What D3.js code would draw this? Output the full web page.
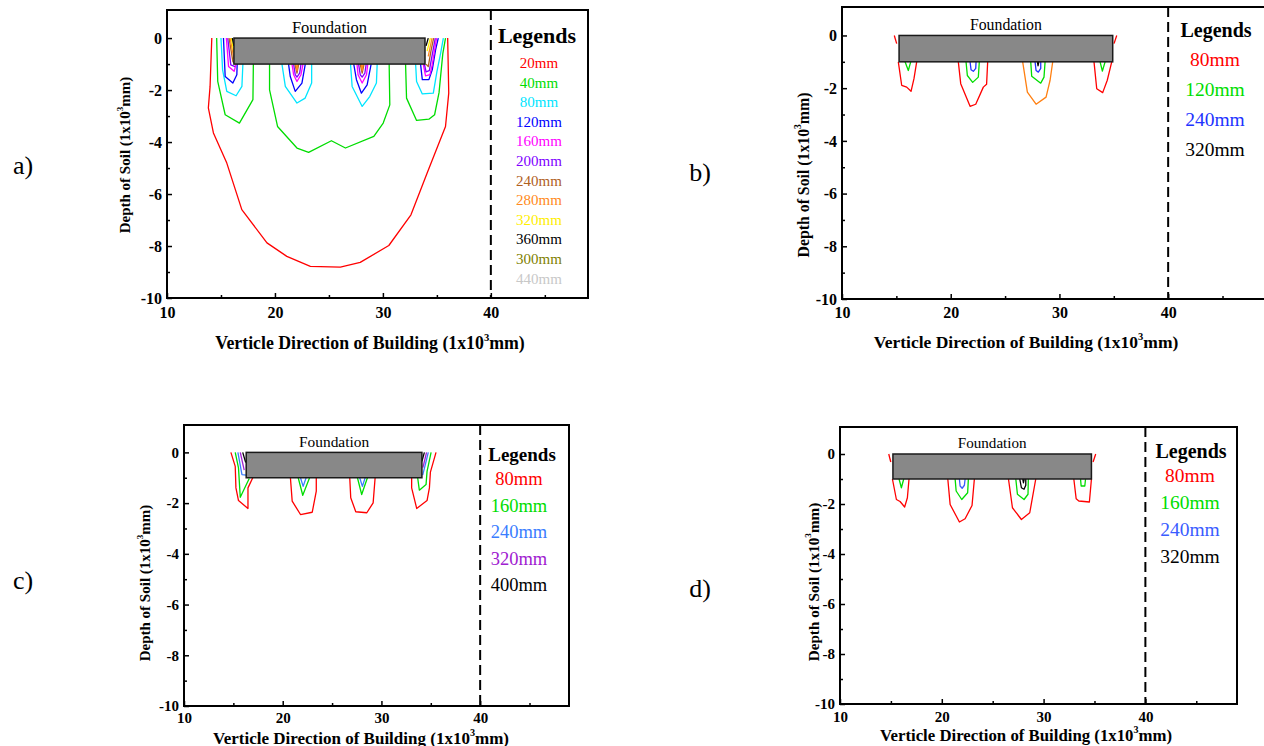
<!DOCTYPE html>
<html>
<head>
<meta charset="utf-8">
<script src="https://cdn.jsdelivr.net/npm/d3@7"></script>
<style>
  body { margin: 0; background: #fff; }
  svg { display: block; }
  text { font-family: "Liberation Serif", "Times New Roman", "DejaVu Serif", serif; }
</style>
</head>
<body>
<div id="chart"></div>
<script>
// Shared axis settings (x and y in 1x10^3 mm)
const xTicks = [10, 20, 30, 40];
const xMinorTicks = [15, 25, 35, 45];
const yTicks = [0, -2, -4, -6, -8, -10];
const yMinorTicks = [-1, -3, -5, -7, -9];
const xDomain = [10, 49];
const yDomain = [-10, 1.08];
const wallX = 40;
const foundationDepth = [-1, 0];
const panelLabels = ["a)", "b)", "c)", "d)"];
const serif = "'Liberation Serif', 'Times New Roman', serif";

// Panel a
const aLevels = ["20mm", "40mm", "80mm", "120mm", "160mm", "200mm", "240mm", "280mm", "320mm", "360mm", "300mm", "440mm"];
const aColors = ["#ff0000", "#00dd00", "#00e5ff", "#0000ff", "#ff00ff", "#7f00ff", "#b0601e", "#ff8a20", "#ffee00", "#000000", "#808000", "#c8c8c8"];
const aFoundation = [16.2, 33.9];
const aLines = [
  {lvl: "20mm", pts: [[14.15,0],[13.99,-1.86],[13.83,-2.69],[14.3,-3.65],[15.54,-4.81],[16.93,-6.6],[19.26,-7.88],[21.1,-8.4],[23.28,-8.78],[26.06,-8.81],[27.9,-8.63],[30.55,-7.98],[32.6,-6.8],[34.1,-5.19],[35.8,-3.4],[36.1,-2.12],[36.0,0]]},
  {lvl: "40mm", pts: [[14.6,0],[14.7,-1.67],[15.39,-2.95],[16.71,-3.27],[17.96,-2.37],[18.0,-1]]},
  {lvl: "40mm", pts: [[19.5,-1],[19.5,-1.99],[20.24,-3.4],[22.04,-4.23],[23.12,-4.4],[25.23,-3.95],[26.53,-4.23],[29.16,-3.78],[30.03,-3.27],[30.64,-2.57],[30.58,-1]]},
  {lvl: "40mm", pts: [[32.1,-1],[32.19,-2.31],[33.12,-3.17],[34.26,-3.12],[34.79,-2.95],[35.2,-2.1],[35.55,-0.6],[35.8,0]]},
  {lvl: "80mm", pts: [[15.0,0],[15.15,-1.22],[15.54,-2.05],[16.4,-2.22],[16.94,-1.86],[17.03,-1]]},
  {lvl: "80mm", pts: [[20.65,-1],[20.96,-1.86],[22.04,-2.5],[22.8,-2.31],[23.4,-1.73],[23.4,-1]]},
  {lvl: "80mm", pts: [[27.0,-1],[27.15,-1.86],[28.08,-2.63],[28.78,-2.25],[29.4,-1.73],[29.47,-1]]},
  {lvl: "80mm", pts: [[33.03,-1],[33.12,-1.67],[33.65,-2.15],[34.67,-2.12],[35.0,-1.3],[35.35,-0.58],[35.6,0]]},
  {lvl: "120mm", pts: [[15.23,0],[15.39,-1.48],[16.1,-1.73],[16.47,-1.41],[16.5,-1]]},
  {lvl: "120mm", pts: [[21.26,-1],[21.42,-1.48],[21.88,-2.05],[22.5,-1.73],[22.81,-1]]},
  {lvl: "120mm", pts: [[27.3,-1],[27.55,-1.6],[28.01,-2.12],[28.54,-1.8],[28.91,-1]]},
  {lvl: "120mm", pts: [[33.49,-1],[33.65,-1.6],[34.26,-1.6],[34.57,-1.22],[34.88,-0.45],[35.13,0]]},
  {lvl: "160mm", pts: [[15.5,0],[15.7,-1.09],[16.22,-1.28],[16.4,-1]]},
  {lvl: "160mm", pts: [[21.58,-1],[21.73,-1.41],[22.04,-1.67],[22.41,-1.41],[22.6,-1]]},
  {lvl: "160mm", pts: [[27.6,-1],[27.7,-1.41],[28.08,-1.73],[28.48,-1.41],[28.6,-1]]},
  {lvl: "160mm", pts: [[33.74,-1],[33.95,-1.45],[34.36,-1.41],[34.57,-1.03],[34.97,0]]},
  {lvl: "200mm", pts: [[15.63,0],[15.91,-1.03],[16.3,-1.1]]},
  {lvl: "200mm", pts: [[21.73,-1],[21.88,-1.41],[22.04,-1.5],[22.29,-1.35],[22.41,-1]]},
  {lvl: "200mm", pts: [[27.75,-1],[27.9,-1.41],[28.08,-1.5],[28.33,-1.35],[28.45,-1]]},
  {lvl: "200mm", pts: [[33.85,-1],[34.0,-1.3],[34.3,-1.25],[34.5,-0.8],[34.85,0]]},
  {lvl: "240mm", pts: [[15.75,0],[16.1,-0.9],[16.3,-1]]},
  {lvl: "240mm", pts: [[21.85,-1],[22.04,-1.35],[22.2,-1]]},
  {lvl: "240mm", pts: [[27.9,-1],[28.08,-1.35],[28.25,-1]]},
  {lvl: "240mm", pts: [[34.0,-1],[34.2,-1.1],[34.45,-0.5],[34.7,0]]},
  {lvl: "280mm", pts: [[15.85,0],[16.2,-0.8]]},
  {lvl: "280mm", pts: [[21.95,-1],[22.04,-1.25],[22.12,-1]]},
  {lvl: "280mm", pts: [[28.0,-1],[28.08,-1.25],[28.16,-1]]},
  {lvl: "280mm", pts: [[34.2,-0.7],[34.55,0]]},
  {lvl: "320mm", pts: [[15.95,0],[16.2,-0.55]]},
  {lvl: "320mm", pts: [[34.1,-0.5],[34.4,0]]},
  {lvl: "360mm", pts: [[16.05,0],[16.2,-0.3]]},
  {lvl: "360mm", pts: [[34.0,-0.3],[34.2,0]]}
];

// Panel b
const bLevels = ["80mm", "120mm", "240mm", "320mm"];
const bColors = ["#ff0000", "#00dd00", "#2233ff", "#000000", "#ff7f10"];
const bFoundation = [15.25, 34.9];
const bLines = [
  {lvl: "80mm", pts: [[14.81,0],[15.03,-0.31]]},
  {lvl: "80mm", pts: [[35.27,0],[35.02,-0.31]]},
  {lvl: "80mm", pts: [[15.18,-1],[15.49,-1.89],[15.95,-1.96],[16.35,-2.12],[16.62,-1.64],[16.87,-1]]},
  {lvl: "80mm", pts: [[20.7,-1],[20.92,-1.83],[21.78,-2.69],[22.3,-2.61],[23.0,-1.96],[23.3,-1.85],[23.4,-1]]},
  {lvl: "80mm", pts: [[33.18,-1],[33.43,-2.02],[33.98,-2.17],[34.4,-1.7],[34.81,-1]]},
  {lvl: "other", pts: [[26.62,-1],[27.05,-2.15],[27.85,-2.61],[28.77,-2.34],[29.14,-1.7],[29.38,-1]]},
  {lvl: "120mm", pts: [[15.8,-1],[16.1,-1.33],[16.32,-1]]},
  {lvl: "120mm", pts: [[21.41,-1],[21.53,-1.52],[22.02,-1.78],[22.54,-1.58],[22.63,-1]]},
  {lvl: "120mm", pts: [[27.36,-1],[27.45,-1.55],[28.28,-1.81],[28.58,-1.58],[28.68,-1]]},
  {lvl: "120mm", pts: [[33.74,-1],[33.95,-1.35],[34.2,-1]]},
  {lvl: "240mm", pts: [[21.78,-1],[21.87,-1.3],[22.08,-1.36],[22.3,-1.25],[22.33,-1]]},
  {lvl: "240mm", pts: [[27.76,-1],[27.85,-1.33],[28.06,-1.39],[28.28,-1.25],[28.28,-1]]},
  {lvl: "320mm", pts: [[27.98,-1],[28.03,-1.15],[28.1,-1]]}
];

// Panel c
const cLevels = ["80mm", "160mm", "240mm", "320mm", "400mm"];
const cColors = ["#ff0000", "#00dd00", "#3a7dff", "#a020d0", "#000000"];
const cFoundation = [16.3, 34.1];
const cLines = [
  {lvl: "80mm", pts: [[14.75,0],[15.19,-0.55],[15.26,-1.4],[15.52,-1.9],[16.48,-2.21],[16.48,-1.4],[16.99,-0.98]]},
  {lvl: "80mm", pts: [[20.78,-1],[20.96,-1.92],[21.8,-2.45],[22.99,-2.36],[23.4,-1.53],[23.4,-1]]},
  {lvl: "80mm", pts: [[26.79,-1],[26.89,-1.79],[27.4,-2.34],[28.52,-2.38],[29.16,-1.99],[29.36,-1]]},
  {lvl: "80mm", pts: [[35.53,0],[34.96,-0.78],[34.86,-1.4],[34.62,-1.9],[33.57,-2.21],[33.06,-1.4],[33.06,-1]]},
  {lvl: "160mm", pts: [[15.19,0],[15.52,-0.61],[15.7,-1.77],[16.61,-1.03]]},
  {lvl: "160mm", pts: [[21.57,-1],[22.03,-1.69],[22.72,-1]]},
  {lvl: "160mm", pts: [[27.57,-1],[28.0,-1.66],[28.58,-1]]},
  {lvl: "160mm", pts: [[35.03,0],[34.62,-0.75],[34.52,-1.27],[33.84,-1.49],[33.67,-1]]},
  {lvl: "240mm", pts: [[15.46,0],[15.87,-0.88],[16.3,-0.9]]},
  {lvl: "240mm", pts: [[21.8,-1],[22.07,-1.34],[22.37,-1]]},
  {lvl: "240mm", pts: [[27.8,-1],[28.07,-1.34],[28.35,-1]]},
  {lvl: "240mm", pts: [[34.75,0],[34.18,-0.9]]},
  {lvl: "320mm", pts: [[15.7,0],[16.1,-0.7]]},
  {lvl: "320mm", pts: [[34.57,0],[34.2,-0.6]]},
  {lvl: "400mm", pts: [[15.95,0],[16.25,-0.4]]},
  {lvl: "400mm", pts: [[34.35,0],[34.1,-0.35]]}
];

// Panel d
const dLevels = ["80mm", "160mm", "240mm", "320mm"];
const dColors = ["#ff0000", "#00dd00", "#3a5cff", "#000000"];
const dFoundation = [15.2, 34.7];
const dLines = [
  {lvl: "80mm", pts: [[14.79,0],[14.99,-0.32]]},
  {lvl: "80mm", pts: [[35.12,0],[34.86,-0.32]]},
  {lvl: "80mm", pts: [[15.15,-1],[15.54,-1.82],[15.9,-1.9],[16.35,-2.12],[16.62,-1.75],[16.78,-1]]},
  {lvl: "80mm", pts: [[20.59,-1],[20.82,-2.02],[21.73,-2.72],[22.29,-2.59],[22.97,-2.06],[23.2,-1]]},
  {lvl: "80mm", pts: [[26.55,-1],[26.94,-2.15],[27.82,-2.62],[28.64,-2.35],[29.23,-1]]},
  {lvl: "80mm", pts: [[32.97,-1],[33.2,-1.79],[33.46,-1.88],[34.5,-1.92],[34.7,-1]]},
  {lvl: "160mm", pts: [[15.8,-1],[16.03,-1.35],[16.26,-1]]},
  {lvl: "160mm", pts: [[21.31,-1],[21.41,-1.48],[21.96,-1.82],[22.54,-1.55],[22.61,-1]]},
  {lvl: "160mm", pts: [[27.27,-1],[27.43,-1.61],[28.08,-1.82],[28.47,-1.61],[28.5,-1]]},
  {lvl: "160mm", pts: [[33.63,-1],[33.69,-1.28],[34.05,-1.28],[34.12,-1]]},
  {lvl: "240mm", pts: [[21.73,-1],[21.8,-1.28],[22.0,-1.37],[22.22,-1.25],[22.29,-1]]},
  {lvl: "320mm", pts: [[27.66,-1],[27.82,-1.35],[28.08,-1.41],[28.25,-1.25],[28.25,-1]]},
  {lvl: "320mm", pts: [[27.95,-1],[28.02,-1.15],[28.1,-1]]}
];

// Layout of the four panels on the page
const panels = [
  {levels: aLevels, colors: aColors, lines: aLines, found: aFoundation,
   box: {l: 167, r: 588, t: 10, b: 298}, lab: [23, 165], tick: 16, padX: 9,
   yTitle: [125, 155, 15], xTitle: [370, 343, 17.8], found_fs: 16.5,
   leg: {x: 537, y: 35, fs: 22, ix: 539, iy: 63, step: 19.6, ifs: 15}},
  {levels: bLevels, colors: bColors, lines: bLines, found: bFoundation,
   box: {l: 842, r: 1266, t: 7, b: 299}, lab: [700, 172], tick: 16, padX: 8,
   yTitle: [803, 175, 15.8], xTitle: [1026, 342, 17.5], found_fs: 15.8,
   leg: {x: 1216, y: 30, fs: 20, ix: 1215, iy: 59, step: 30, ifs: 19.5}},
  {levels: cLevels, colors: cColors, lines: cLines, found: cFoundation,
   box: {l: 184, r: 569, t: 425, b: 706}, lab: [23, 580], tick: 15, padX: 6,
   yTitle: [145, 583, 15], xTitle: [361, 738, 17], found_fs: 15.4,
   leg: {x: 522, y: 454, fs: 19, ix: 519, iy: 479, step: 26.5, ifs: 18.5}},
  {levels: dLevels, colors: dColors, lines: dLines, found: dFoundation,
   box: {l: 840, r: 1237, t: 427, b: 704}, lab: [700, 588], tick: 15, padX: 7,
   yTitle: [813, 582, 15.2], xTitle: [1026, 735, 16.8], found_fs: 15.1,
   leg: {x: 1191, y: 451, fs: 20, ix: 1190, iy: 475, step: 27, ifs: 19.5}}
];

const svg = d3.select("#chart").append("svg")
    .attr("width", 1264)
    .attr("height", 746)
    .style("font-family", serif);

panels.forEach((p, i) => {
  const g = svg.append("g");
  const x = d3.scaleLinear().domain(xDomain).range([p.box.l, p.box.r]);
  const y = d3.scaleLinear().domain(yDomain).range([p.box.b, p.box.t]);
  const color = d3.scaleOrdinal()
      .domain(p.levels.concat(["other"]))
      .range(p.colors);
  const line = d3.line().x(d => x(d[0])).y(d => y(d[1]));

  // contour lines
  g.selectAll(".contour")
    .data(p.lines)
    .enter()
    .append("path")
    .attr("class", "contour")
    .attr("d", d => line(d.pts))
    .attr("fill", "none")
    .attr("stroke", d => color(d.lvl))
    .attr("stroke-width", 1.3)
    .attr("stroke-linejoin", "round");

  // foundation block
  g.append("rect")
    .attr("x", x(p.found[0]))
    .attr("y", y(foundationDepth[1]))
    .attr("width", x(p.found[1]) - x(p.found[0]))
    .attr("height", y(foundationDepth[0]) - y(foundationDepth[1]))
    .attr("fill", "#888888")
    .attr("stroke", "#1a1a1a")
    .attr("stroke-width", 1.5);

  g.append("text")
    .attr("x", (x(p.found[0]) + x(p.found[1])) / 2)
    .attr("y", y(foundationDepth[1]) - 11)
    .attr("text-anchor", "middle")
    .attr("dominant-baseline", "central")
    .style("font-family", serif)
    .style("font-size", p.found_fs + "px")
    .text("Foundation");

  // dashed boundary line
  g.append("line")
    .attr("x1", x(wallX)).attr("x2", x(wallX))
    .attr("y1", p.box.t).attr("y2", p.box.b)
    .attr("stroke", "#000")
    .attr("stroke-width", 2)
    .attr("stroke-dasharray", "10,5");

  // axes (ticks pointing inward)
  g.append("g")
    .attr("transform", `translate(0,${p.box.b})`)
    .call(d3.axisBottom(x).tickValues(xTicks).tickSize(-5).tickSizeOuter(0)
      .tickPadding(p.padX).tickFormat(d => String(d)));
  g.append("g")
    .attr("transform", `translate(0,${p.box.b})`)
    .call(d3.axisBottom(x).tickValues(xMinorTicks).tickSize(-3).tickSizeOuter(0).tickFormat(""));
  g.append("g")
    .attr("transform", `translate(${p.box.l},0)`)
    .call(d3.axisLeft(y).tickValues(yTicks).tickSize(-5).tickSizeOuter(0)
      .tickPadding(5).tickFormat(d => String(d)));
  g.append("g")
    .attr("transform", `translate(${p.box.l},0)`)
    .call(d3.axisLeft(y).tickValues(yMinorTicks).tickSize(-3).tickSizeOuter(0).tickFormat(""));

  g.selectAll(".domain").remove();
  g.selectAll(".tick line").attr("stroke", "#000").attr("stroke-width", 1.5);
  g.selectAll(".tick text")
    .attr("fill", "#000")
    .attr("font-family", null)
    .style("font-family", serif)
    .style("font-weight", "bold")
    .style("font-size", p.tick + "px");

  // frame
  g.append("rect")
    .attr("x", p.box.l).attr("y", p.box.t)
    .attr("width", p.box.r - p.box.l)
    .attr("height", p.box.b - p.box.t)
    .attr("fill", "none")
    .attr("stroke", "#000")
    .attr("stroke-width", 2);

  // axis titles
  const yt = g.append("text")
    .attr("transform", `translate(${p.yTitle[0]},${p.yTitle[1]}) rotate(-90)`)
    .attr("text-anchor", "middle")
    .attr("dominant-baseline", "central")
    .style("font-family", serif)
    .style("font-weight", "bold")
    .style("font-size", p.yTitle[2] + "px");
  yt.append("tspan").text("Depth of Soil (1x10");
  yt.append("tspan").attr("baseline-shift", "super").style("font-size", "0.6em").text("3");
  yt.append("tspan").text("mm)");

  const xt = g.append("text")
    .attr("x", p.xTitle[0])
    .attr("y", p.xTitle[1])
    .attr("text-anchor", "middle")
    .attr("dominant-baseline", "central")
    .style("font-family", serif)
    .style("font-weight", "bold")
    .style("font-size", p.xTitle[2] + "px");
  xt.append("tspan").text("Verticle Direction of Building (1x10");
  xt.append("tspan").attr("baseline-shift", "super").style("font-size", "0.6em").text("3");
  xt.append("tspan").text("mm)");

  // legend
  g.append("text")
    .attr("x", p.leg.x).attr("y", p.leg.y)
    .attr("text-anchor", "middle")
    .attr("dominant-baseline", "central")
    .style("font-family", serif)
    .style("font-weight", "bold")
    .style("font-size", p.leg.fs + "px")
    .text("Legends");

  g.selectAll(".leg-item")
    .data(p.levels)
    .enter()
    .append("text")
    .attr("class", "leg-item")
    .attr("x", p.leg.ix)
    .attr("y", (d, k) => p.leg.iy + k * p.leg.step)
    .attr("text-anchor", "middle")
    .attr("dominant-baseline", "central")
    .attr("fill", d => color(d))
    .style("font-family", serif)
    .style("font-size", p.leg.ifs + "px")
    .text(d => d);

  // panel label
  svg.append("text")
    .attr("x", p.lab[0]).attr("y", p.lab[1])
    .attr("text-anchor", "middle")
    .attr("dominant-baseline", "central")
    .style("font-family", serif)
    .style("font-size", "26px")
    .text(panelLabels[i]);
});
</script>
</body>
</html>
